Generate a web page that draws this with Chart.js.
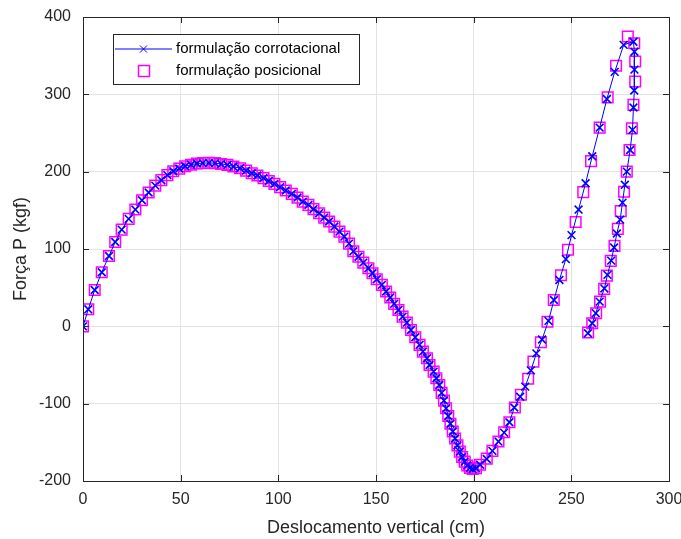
<!DOCTYPE html>
<html>
<head>
<meta charset="utf-8">
<script src="https://cdn.jsdelivr.net/npm/chart.js@4.4.0/dist/chart.umd.min.js"></script>
<style>
  html, body { margin: 0; padding: 0; background: #fff; }
  #wrap { width: 681px; height: 539px; }
</style>
</head>
<body>
<div id="wrap"><canvas id="chart" width="681" height="539"></canvas></div>
<script>
// common branch (start -> valley), same for both formulations
const baseX = [0, 2.7, 6, 9.6, 13.3, 16.5, 19.8, 23.4, 26.8, 30.2, 33.6, 37, 40.1, 43.2, 46.2, 49.3,
  52.3, 55.3, 58.3, 61.3, 64.5, 67.6, 70.7, 73.9, 77, 80.4, 83.5, 86.4, 89.3, 92.4, 95.1, 98,
  100.9, 103.8, 106.9, 109.8, 112.5, 115.4, 118, 120.9, 123.5, 126, 128.7, 131.3, 133.8, 136.2,
  138.4, 141, 143.5, 146.1, 148.2, 150.4, 153, 155.2, 157.3, 159.3, 161.5, 163.6, 165.8, 167.9,
  170.1, 172.3, 174, 176.1, 177.4, 179.5, 180.9, 182.4, 183.6, 184.8, 185.9, 187, 188.1, 189.3,
  190.5, 191.7, 192.9, 194.1, 195.4, 196.7, 198.1, 199.5, 201.2];
const baseY = [0, 22, 47, 70, 91, 109, 125, 139, 151, 163, 173, 182, 189, 195.5, 200.5, 204,
  207, 209, 210.5, 211, 211.3, 211, 210, 208.8, 206.6, 204.5, 201.4, 198, 195, 191.6, 188, 184.2,
  180, 175.6, 171.3, 166.5, 161.3, 157, 151.5, 146.3, 140.6, 135.5, 129, 122.5, 116, 107,
  97, 90, 82.4, 75.2, 68.7, 60.9, 53.6, 45, 37.2, 29, 21.2, 12.5, 4.8, -4.7,
  -14.1, -24, -32.7, -41.3, -50, -58.6, -67.2, -75.8, -86, -96, -106, -116, -126, -136,
  -145, -154, -162, -169, -175, -180, -183, -184.5, -183.5];

// formulação corrotacional, after the valley
const corrX = [203.3, 206.7, 209.6, 212.7, 215.6, 218.3, 220.8, 223.8, 226.4, 229.3, 232.1, 235,
  238.3, 241.1, 243.9, 247.2, 250.1, 253.7, 257.3, 260.7, 264.5, 268.2, 272.2, 276.8, 281.8,
  282.3, 282.3, 282.2, 281.8, 281.3, 280.1, 278.4, 277.4, 276.2, 275, 273.3, 271.9, 270.4,
  268.5, 266.9, 264.5, 262.5, 260.7, 258.5];
const corrY = [-179, -171.5, -161, -149, -137.5, -124, -105, -91, -78, -57, -35, -17,
  7, 34, 60, 87, 118, 151, 185, 220, 257, 294, 329, 364, 368,
  355, 332, 305, 283, 254, 228, 200, 183, 160, 138, 120, 102, 85,
  66.5, 49, 32, 17, 4, -9];

// formulação posicional, after the valley
const posX = [203.3, 206.7, 209.6, 212.7, 215.6, 218.3, 221.1, 224.2, 227.9, 230.6, 234.4,
  237.8, 241, 244.7, 248.3, 252.2, 256.1, 260.1, 264.5, 268.6, 272.9, 278.9, 282.2, 282.7,
  282.7, 281.8, 281, 279.8, 278.4, 277, 275.3, 273.8, 272.1, 270.2, 268.2, 266.8, 264.7,
  262.7, 260.7, 258.6];
const posY = [-179, -171, -161, -149, -137, -124, -105, -88.4, -67.7, -45.7, -20.6,
  6, 34, 66, 99, 135, 173.5, 213.6, 257, 296, 337, 374.8, 366, 342.5,
  316.6, 286.4, 256, 228, 200, 174, 149, 126, 104, 84.6, 65.6, 48.4, 32,
  17, 4, -8];

const xTicks = [0, 50, 100, 150, 200, 250, 300];
const yTicks = [-200, -100, 0, 100, 200, 300, 400];
const seriesNames = ['formulação corrotacional', 'formulação posicional'];

function toPoints(xs, ys) {
  return xs.map((x, i) => ({ x: x, y: ys[i] }));
}

const corrPts = toPoints(baseX.concat(corrX), baseY.concat(corrY));
const posPts = toPoints(baseX.concat(posX), baseY.concat(posY));

const FONT = '"Liberation Sans", Arial, sans-serif';
const TXT = '#262626';

// box around the axes with inward ticks, MATLAB style
const boxPlugin = {
  id: 'boxPlugin',
  afterDatasetsDraw(chart) {
    const { ctx, chartArea: a, scales } = chart;
    ctx.save();
    ctx.strokeStyle = '#262626';
    ctx.lineWidth = 1;
    ctx.strokeRect(Math.round(a.left) + 0.5, Math.round(a.top) + 0.5,
      Math.round(a.right - a.left), Math.round(a.bottom - a.top));
    ctx.beginPath();
    xTicks.forEach(v => {
      const px = Math.round(scales.x.getPixelForValue(v)) + 0.5;
      ctx.moveTo(px, a.bottom); ctx.lineTo(px, a.bottom - 6);
      ctx.moveTo(px, a.top); ctx.lineTo(px, a.top + 6);
    });
    yTicks.forEach(v => {
      const py = Math.round(scales.y.getPixelForValue(v)) + 0.5;
      ctx.moveTo(a.left, py); ctx.lineTo(a.left + 6, py);
      ctx.moveTo(a.right, py); ctx.lineTo(a.right - 6, py);
    });
    ctx.stroke();

    // legend
    const lx = 113, ly = 34, lw = 246, lh = 50;
    ctx.fillStyle = '#fff';
    ctx.fillRect(lx, ly, lw, lh);
    ctx.strokeStyle = '#262626';
    ctx.strokeRect(lx + 0.5, ly + 0.5, lw, lh);
    // row 1
    ctx.strokeStyle = '#0000ff';
    ctx.beginPath();
    ctx.moveTo(115, 49); ctx.lineTo(172, 49);
    ctx.moveTo(143.5 - 3.5, 45.5); ctx.lineTo(143.5 + 3.5, 52.5);
    ctx.moveTo(143.5 - 3.5, 52.5); ctx.lineTo(143.5 + 3.5, 45.5);
    ctx.stroke();
    // row 2
    ctx.strokeStyle = '#ff00ff';
    ctx.lineWidth = 1.5;
    ctx.strokeRect(138.5, 65.5, 11, 11);
    ctx.fillStyle = '#000';
    ctx.font = '15px ' + FONT;
    ctx.textBaseline = 'middle';
    ctx.fillText(seriesNames[0], 176, 49);
    ctx.fillText(seriesNames[1], 176, 71);
    ctx.restore();
  }
};

new Chart(document.getElementById('chart'), {
  type: 'scatter',
  data: {
    datasets: [
      {
        label: seriesNames[1],
        data: posPts,
        showLine: false,
        pointStyle: 'rect',
        pointRadius: 7.5,
        pointBorderWidth: 1.5,
        pointBorderColor: '#ff00ff',
        pointBackgroundColor: 'rgba(0,0,0,0)',
        order: 2
      },
      {
        label: seriesNames[0],
        data: corrPts,
        showLine: true,
        borderColor: '#0000ff',
        borderWidth: 1,
        pointStyle: 'crossRot',
        pointRadius: 5.5,
        pointBorderWidth: 1.6,
        pointBorderColor: '#0000ff',
        pointBackgroundColor: '#0000ff',
        order: 1
      }
    ]
  },
  options: {
    responsive: false,
    animation: false,
    layout: { padding: { left: 0, top: 17, right: 12, bottom: 0 } },
    plugins: {
      legend: { display: false },
      tooltip: { enabled: false }
    },
    scales: {
      x: {
        type: 'linear',
        min: 0,
        max: 300,
        afterBuildTicks: s => { s.ticks = xTicks.map(v => ({ value: v })); },
        afterFit: s => { s.height = 58; s.paddingLeft = 0; s.paddingRight = 0; },
        grid: { color: '#e3e3e3', drawTicks: false },
        border: { display: false },
        ticks: { color: TXT, font: { family: FONT, size: 16 }, padding: 9 },
        title: {
          display: true,
          text: 'Deslocamento vertical (cm)',
          color: TXT,
          font: { family: FONT, size: 18 },
          padding: { top: 2, bottom: 0 }
        }
      },
      y: {
        type: 'linear',
        min: -200,
        max: 400,
        afterBuildTicks: s => { s.ticks = yTicks.map(v => ({ value: v })); },
        afterFit: s => { s.width = 83; s.paddingTop = 0; s.paddingBottom = 0; },
        grid: { color: '#e3e3e3', drawTicks: false },
        border: { display: false },
        ticks: { color: TXT, font: { family: FONT, size: 16 }, padding: 12 },
        title: {
          display: true,
          text: 'Força P (kgf)',
          color: TXT,
          font: { family: FONT, size: 18 },
          padding: { top: 10, bottom: 0 }
        }
      }
    }
  },
  plugins: [boxPlugin]
});
</script>
</body>
</html>
